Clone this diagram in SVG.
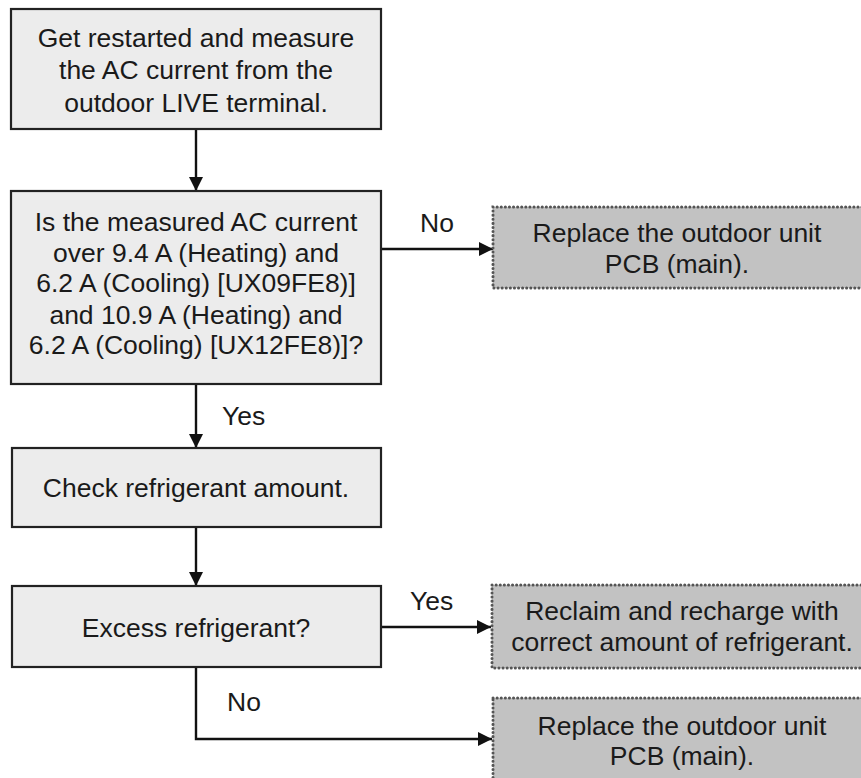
<svg xmlns="http://www.w3.org/2000/svg" width="861" height="778" viewBox="0 0 861 778">
<style>
text{font-family:"Liberation Sans",Arial,sans-serif;font-size:26.5px;fill:#1a1a1a;text-anchor:middle}
.lbl{text-anchor:start}
.proc{fill:#ececec;stroke:#222;stroke-width:2.2}
.end{fill:#c2c2c2;stroke:#555;stroke-width:3;stroke-dasharray:0.1 4;stroke-linecap:round}
.conn{fill:none;stroke:#111;stroke-width:2.4}
</style>
<defs>
<marker id="ah" viewBox="0 0 14 14" refX="14" refY="7" markerWidth="14" markerHeight="14" markerUnits="userSpaceOnUse" orient="auto">
<path d="M0,0 L14,7 L0,14 Z" fill="#111"/>
</marker>
</defs>
<g id="connectors">
<line class="conn" x1="196" y1="129" x2="196" y2="191" marker-end="url(#ah)"/>
<line class="conn" x1="381" y1="249" x2="493" y2="249" marker-end="url(#ah)"/>
<line class="conn" x1="196" y1="384" x2="196" y2="448" marker-end="url(#ah)"/>
<line class="conn" x1="196" y1="527" x2="196" y2="586" marker-end="url(#ah)"/>
<line class="conn" x1="381" y1="627" x2="491" y2="627" marker-end="url(#ah)"/>
<polyline class="conn" points="196,667 196,739 492,739" marker-end="url(#ah)"/>
<text class="lbl" x="420" y="232">No</text>
<text class="lbl" x="222" y="425">Yes</text>
<text class="lbl" x="410" y="610">Yes</text>
<text class="lbl" x="227" y="711">No</text>
</g>
<g id="n1">
<rect class="proc" x="11" y="9" width="370" height="120"/>
<text x="196" y="47">Get restarted and measure</text>
<text x="196" y="79">the AC current from the</text>
<text x="196" y="112">outdoor LIVE terminal.</text>
</g>
<g id="n2">
<rect class="proc" x="11" y="191" width="370" height="193"/>
<text x="196" y="231">Is the measured AC current</text>
<text x="196" y="262">over 9.4 A (Heating) and</text>
<text x="196" y="292">6.2 A (Cooling) [UX09FE8)]</text>
<text x="196" y="324">and 10.9 A (Heating) and</text>
<text x="196" y="354">6.2 A (Cooling) [UX12FE8)]?</text>
</g>
<g id="n3">
<rect class="end" x="493" y="207" width="370" height="81"/>
<text x="677" y="242">Replace the outdoor unit</text>
<text x="677" y="273">PCB (main).</text>
</g>
<g id="n4">
<rect class="proc" x="12" y="448" width="369" height="79"/>
<text x="196" y="497">Check refrigerant amount.</text>
</g>
<g id="n5">
<rect class="proc" x="12" y="586" width="369" height="81"/>
<text x="196" y="637">Excess refrigerant?</text>
</g>
<g id="n6">
<rect class="end" x="492" y="585" width="372" height="83"/>
<text x="682" y="620">Reclaim and recharge with</text>
<text x="682" y="651">correct amount of refrigerant.</text>
</g>
<g id="n7">
<rect class="end" x="493" y="698" width="372" height="84"/>
<text x="682" y="735">Replace the outdoor unit</text>
<text x="682" y="765">PCB (main).</text>
</g>
</svg>
